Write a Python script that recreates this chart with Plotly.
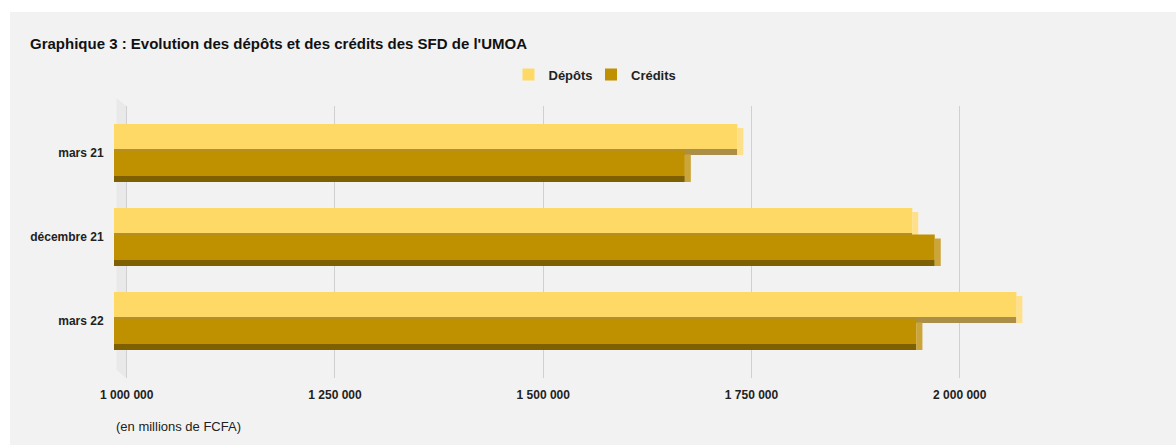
import plotly.graph_objects as go

# ---- data ----
categories = ["mars 21", "décembre 21", "mars 22"]
depots = [1733000, 1943000, 2068000]
credits = [1670000, 1970000, 1948000]
tick_values = [1000000, 1250000, 1500000, 1750000, 2000000, 2250000]
tick_labels = ["1 000 000", "1 250 000", "1 500 000", "1 750 000", "2 000 000", ""]

title_text = "Graphique 3 : Evolution des dépôts et des crédits des SFD de l'UMOA"
unit_text = "(en millions de FCFA)"

# ---- geometry / style ----
W, H = 1176, 445
ML, MR, MT, MB = 114, 8, 106, 67
PW = W - ML - MR
PH = H - MT - MB
PX_PER_CAT = 84.0
UNITS_PER_PX = 1250000 / (1168 - 126.7)
X_MIN = 1000000 - (126.7 - ML) * UNITS_PER_PX
X_MAX = 2250000
DEPTH = 6 * UNITS_PER_PX
Y_TOP = -(152.5 - MT) / PX_PER_CAT
Y_BOT = (H - MB - 152.5) / PX_PER_CAT

FONT = "Liberation Sans"
series = [
    # name, values, front, strip(bottom face), side, front top(px rel centre), height(px), legend, legend left px
    ("Dépôts", depots, "#FFD966", "#AB8F46", "#FFE08A", -28.5, 25.0, "legend", 508.5),
    ("Crédits", credits, "#BF9000", "#7F6000", "#CCA53A", -2.0, 25.5, "legend2", 591.0),
]


def px_x(p):
    return (p - ML) / PW


def px_y(p):
    return (H - MB - p) / PH


fig = go.Figure()
legends = {}
for name, vals, c_front, c_strip, c_side, top_px, h_px, leg, leg_x in series:
    u = 1 / PX_PER_CAT
    # bottom face
    fig.add_trace(go.Bar(
        y=categories, x=vals, orientation="h", marker_color=c_strip, marker_line_width=0,
        offset=(top_px + h_px) * u, width=6 * u, showlegend=False, hoverinfo="skip"))
    # right side face
    fig.add_trace(go.Bar(
        y=categories, x=[DEPTH] * len(vals), base=vals, orientation="h",
        marker_color=c_side, marker_line_width=0, offset=(top_px + 4) * u,
        width=(h_px + 2) * u, showlegend=False, hoverinfo="skip"))
    # front face
    fig.add_trace(go.Bar(
        y=categories, x=vals, orientation="h", name=name, marker_color=c_front,
        marker_line_width=0, offset=top_px * u, width=h_px * u, legend=leg))
    legends[leg] = dict(orientation="h", x=px_x(leg_x), xanchor="left", y=px_y(74.5),
                        yanchor="middle",
                        font=dict(family=FONT, size=13, weight="bold", color="#222222"),
                        bgcolor="rgba(0,0,0,0)")

wall_path = "M {},{} L {},{} L {},{} L {},{} Z".format(
    px_x(116.5), px_y(98), px_x(126), px_y(106), px_x(126), px_y(377.7), px_x(116.5), px_y(370))

fig.update_layout(
    width=W, height=H,
    margin=dict(l=ML, r=MR, t=MT, b=MB, pad=0),
    barmode="overlay",
    paper_bgcolor="white",
    plot_bgcolor="rgba(0,0,0,0)",
    font=dict(family=FONT, color="#222222", size=12),
    title=dict(text=title_text, x=30 / W, xref="container", xanchor="left",
               y=1 - 44 / H, yref="container", yanchor="middle",
               font=dict(family=FONT, size=15, weight="bold", color="#111111")),
    xaxis=dict(range=[X_MIN, X_MAX], tickvals=tick_values, ticktext=tick_labels,
               showgrid=True, gridcolor="#D0D0D0", gridwidth=1, zeroline=False,
               showline=False, ticks="outside", ticklen=6, tickcolor="rgba(0,0,0,0)",
               tickfont=dict(family=FONT, size=12, weight="bold", color="#222222"),
               fixedrange=True),
    yaxis=dict(range=[Y_BOT, Y_TOP], showgrid=False, zeroline=False, showline=False,
               ticks="outside", ticklen=7, tickcolor="rgba(0,0,0,0)",
               tickfont=dict(family=FONT, size=12, weight="bold", color="#222222"),
               fixedrange=True),
    shapes=[
        dict(type="rect", xref="paper", yref="paper",
             x0=px_x(10), x1=px_x(W + 2), y0=px_y(H + 2), y1=px_y(12),
             fillcolor="#F2F2F2", line=dict(width=0), layer="below"),
        dict(type="path", xref="paper", yref="paper", path=wall_path,
             fillcolor="#E9E9E9", line=dict(width=0), layer="below"),
    ],
    annotations=[dict(text=unit_text, xref="paper", yref="paper",
                      x=px_x(114), xanchor="left",
                      y=px_y(426), yanchor="middle", showarrow=False,
                      font=dict(family=FONT, size=13, color="#222222"))],
    **legends,
)

fig.write_html("out.html", config={"displayModeBar": False},
               post_script="document.body.style.margin='0';")
